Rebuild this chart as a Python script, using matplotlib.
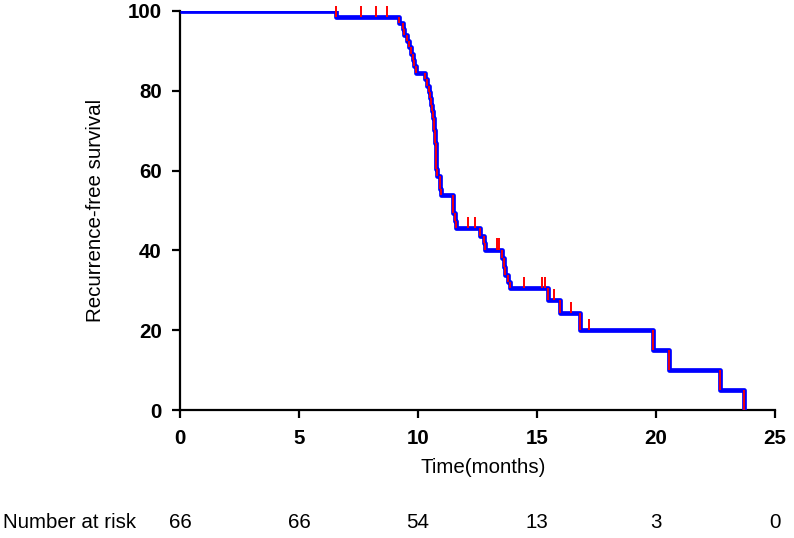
import numpy as np
import matplotlib
matplotlib.use("Agg")
import matplotlib.pyplot as plt
from matplotlib.transforms import blended_transform_factory

plt.rcParams['font.family'] = ['Liberation Sans', 'DejaVu Sans']
FS = 14.8

# Kaplan-Meier step data (event times and survival after each event, %)
event_times = [6.57, 9.22, 9.36, 9.42, 9.55, 9.62, 9.69, 9.78, 9.85, 9.90,
               10.31, 10.36, 10.45, 10.50, 10.56, 10.60, 10.64, 10.66, 10.68, 10.70,
               10.72, 10.74, 10.75, 10.76, 10.77, 10.78, 10.93, 10.94, 10.95,
               11.47, 11.49, 11.56, 11.60, 12.59, 12.76, 12.80,
               13.53, 13.60, 13.67, 13.78, 13.85, 15.45, 15.96, 16.81,
               19.89, 20.53, 22.68, 23.69]
survival = [98.5, 97.0, 95.5, 94.0, 92.4, 90.9, 89.3, 87.7, 86.1, 84.5,
            82.9, 81.3, 79.7, 78.1, 76.5, 74.9, 73.3, 71.7, 70.1, 68.5,
            66.9, 65.3, 63.7, 62.1, 60.5, 58.6, 57.0, 55.4, 53.9,
            51.6, 49.3, 47.4, 45.5, 43.7, 41.9, 40.2,
            38.0, 35.9, 33.8, 32.2, 30.6, 27.6, 24.2, 20.1,
            15.0, 10.0, 5.0, 0.0]
censor_times = [6.57, 7.62, 8.22, 8.71, 12.09, 12.41, 13.32, 13.42,
                14.44, 15.21, 15.32, 15.72, 16.42, 17.20]

risk_times = [0, 5, 10, 15, 20, 25]
risk_counts = [66, 66, 54, 13, 3, 0]
x_ticks = [0, 5, 10, 15, 20, 25]
y_ticks = [0, 20, 40, 60, 80, 100]

fig = plt.figure(figsize=(7.94, 5.38), dpi=100)
ax = fig.add_axes([180/794, 1-410/538, 595/794, 399/538])

t_all = np.concatenate([[0.0], event_times])
s_all = np.concatenate([[100.0], survival])
ax.step(t_all, s_all, where='post', color='#0000ff', lw=3.4, solid_capstyle='butt', zorder=3)

s_before = s_all[:-1]
ax.vlines(event_times, survival, s_before, color='#ff0000', lw=1.3, zorder=4)

# censor marks
idx = np.searchsorted(t_all, censor_times, side='right') - 1
c_levels = s_all[idx]
ax.vlines(censor_times, c_levels, c_levels + 2.8, color='#ff0000', lw=1.4, zorder=4, clip_on=False)

ax.set_xlim(0, 25)
ax.set_ylim(0, 100)
ax.set_xticks(x_ticks)
ax.set_yticks(y_ticks)
for s in ['top', 'right']:
    ax.spines[s].set_visible(False)
for s in ['left', 'bottom']:
    ax.spines[s].set_linewidth(1.6)
ax.tick_params(axis='both', direction='out', length=6, width=1.6, labelsize=FS)
ax.tick_params(axis='y', pad=7)
ax.tick_params(axis='x', pad=8)
for lab in ax.get_xticklabels() + ax.get_yticklabels():
    lab.set_fontweight('bold')

ax.set_ylabel('Recurrence-free survival', fontsize=FS)
ax.yaxis.set_label_coords(-0.126, 0.5)
ax.set_xlabel('Time(months)', fontsize=FS, va='center')
ax.xaxis.set_label_coords(0.51, -0.143)

tr = blended_transform_factory(ax.transData, fig.transFigure)
yrow = 1 - 523/538
fig.text(0.004, yrow, 'Number at risk', fontsize=FS, va='center', ha='left')
for t, n in zip(risk_times, risk_counts):
    ax.text(t, yrow, str(n), transform=tr, fontsize=FS, va='center', ha='center', clip_on=False)

fig.savefig('out.png', dpi=100)
